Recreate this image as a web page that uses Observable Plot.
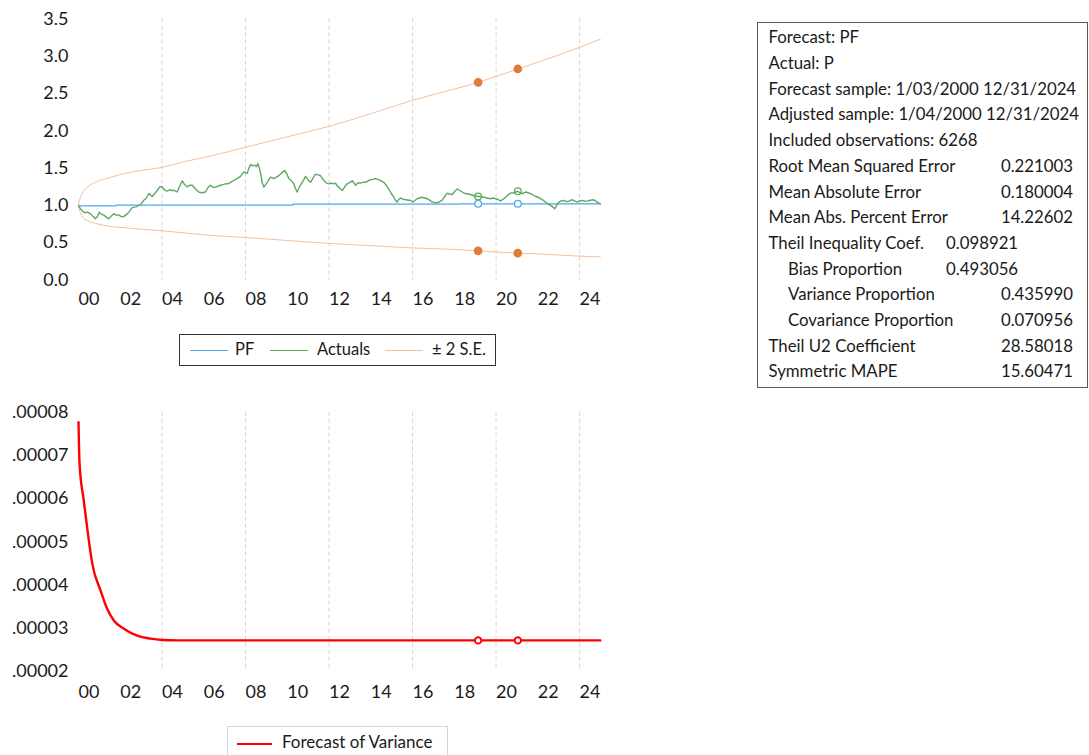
<!DOCTYPE html>
<html>
<head>
<meta charset="utf-8">
<script src="https://cdn.jsdelivr.net/npm/d3@7"></script>
<script src="https://cdn.jsdelivr.net/npm/@observablehq/plot@0.6"></script>
<style>
  html, body { margin: 0; padding: 0; background: #fff; }
  #page { position: relative; width: 1089px; height: 755px; overflow: hidden; font-family: Lato, "Open Sans", sans-serif; color: #1a1a1a; }
  .abs { position: absolute; }
  .legend { position: absolute; box-sizing: border-box; background: #fff; }
  .legend .sw { position: absolute; height: 0; }
  .legend .lb { position: absolute; white-space: nowrap; line-height: 1; }
  #stats { position: absolute; left: 757px; top: 22px; width: 331px; height: 366px; box-sizing: border-box; border: 1px solid #5a5a5a; font-size: 16.8px; }
  #stats div { position: absolute; white-space: nowrap; line-height: 1; }
</style>
</head>
<body>
<div id="page">
  <div id="top" class="abs" style="left:0;top:0"></div>
  <div id="bottom" class="abs" style="left:0;top:390px"></div>
  <div id="legendTop" class="legend" style="left:179px;top:334px;width:317px;height:32px;border:1px solid #333;"></div>
  <div id="legendBottom" class="legend" style="left:227px;top:726px;width:221px;height:40px;border:1px solid #d6d6d6;"></div>
  <div id="stats"></div>
</div>
<script>
// ---- time axis ----
const yearStart = 2000, yearEnd = 2025;
const gridYears = [2004, 2008, 2012, 2016, 2020, 2024];
const labelYears = [2000, 2002, 2004, 2006, 2008, 2010, 2012, 2014, 2016, 2018, 2020, 2022, 2024];
const markerYears = [2019.14, 2021.04];

// ---- forecast PF (step series) ----
const pfYears  = [2000.0, 2001.8, 2010.27, 2018.2, 2024.99];
const pfValues = [0.995, 1.003, 1.018, 1.022, 1.022];

// ---- actual P ----
const actualYears = [
  2000.00, 2000.10, 2000.18, 2000.30, 2000.42, 2000.57, 2000.70, 2000.81, 2000.92, 2001.00,
  2001.10, 2001.21, 2001.35, 2001.45, 2001.58, 2001.69, 2001.80, 2001.93, 2002.05, 2002.17,
  2002.30, 2002.41, 2002.57, 2002.75, 2002.89, 2003.00, 2003.13, 2003.25, 2003.37, 2003.53,
  2003.65, 2003.77, 2003.90, 2004.00, 2004.12, 2004.25, 2004.37, 2004.49, 2004.60, 2004.73,
  2004.85, 2004.97, 2005.08, 2005.20, 2005.32, 2005.45, 2005.60, 2005.76, 2005.90, 2006.08,
  2006.20, 2006.32, 2006.45, 2006.56, 2006.68, 2006.80, 2006.92, 2007.04, 2007.16, 2007.28,
  2007.40, 2007.52, 2007.64, 2007.76, 2007.92, 2008.08, 2008.16, 2008.24, 2008.34, 2008.44,
  2008.52, 2008.59, 2008.66, 2008.72, 2008.80, 2008.88, 2008.96, 2009.04, 2009.12, 2009.20,
  2009.35, 2009.48, 2009.60, 2009.75, 2009.88, 2009.98, 2010.07, 2010.20, 2010.31, 2010.40,
  2010.47, 2010.58, 2010.71, 2010.80, 2010.87, 2011.00, 2011.11, 2011.22, 2011.35, 2011.47,
  2011.59, 2011.75, 2011.88, 2011.99, 2012.10, 2012.23, 2012.31, 2012.40, 2012.47, 2012.55,
  2012.63, 2012.75, 2012.87, 2013.00, 2013.11, 2013.20, 2013.27, 2013.38, 2013.50, 2013.62,
  2013.75, 2013.87, 2013.98, 2014.10, 2014.22, 2014.38, 2014.50, 2014.62, 2014.74, 2014.86,
  2014.98, 2015.10, 2015.18, 2015.26, 2015.34, 2015.42, 2015.54, 2015.66, 2015.78, 2015.90,
  2016.01, 2016.12, 2016.22, 2016.34, 2016.46, 2016.58, 2016.70, 2016.82, 2016.94, 2017.06,
  2017.18, 2017.30, 2017.42, 2017.54, 2017.66, 2017.78, 2017.90, 2018.02, 2018.14, 2018.26,
  2018.38, 2018.50, 2018.62, 2018.77, 2018.95, 2019.14, 2019.28, 2019.41, 2019.57, 2019.73,
  2019.85, 2019.97, 2020.10, 2020.21, 2020.33, 2020.45, 2020.57, 2020.69, 2020.85, 2021.04,
  2021.15, 2021.25, 2021.41, 2021.53, 2021.65, 2021.77, 2021.89, 2022.01, 2022.13, 2022.25,
  2022.37, 2022.49, 2022.61, 2022.71, 2022.81, 2022.90, 2023.00, 2023.12, 2023.24, 2023.36,
  2023.48, 2023.64, 2023.76, 2023.88, 2024.00, 2024.12, 2024.24, 2024.36, 2024.52, 2024.68,
  2024.84, 2024.99
];
const actualValues = [
  1.00, 0.95, 0.93, 0.90, 0.91, 0.89, 0.85, 0.82, 0.86, 0.91,
  0.88, 0.87, 0.84, 0.82, 0.86, 0.89, 0.87, 0.87, 0.85, 0.85,
  0.88, 0.91, 0.97, 0.98, 1.00, 1.02, 1.07, 1.10, 1.16, 1.12,
  1.16, 1.20, 1.25, 1.25, 1.21, 1.19, 1.21, 1.20, 1.20, 1.18,
  1.26, 1.33, 1.28, 1.25, 1.27, 1.27, 1.22, 1.18, 1.17, 1.18,
  1.24, 1.27, 1.24, 1.245, 1.26, 1.27, 1.28, 1.29, 1.29, 1.31,
  1.33, 1.345, 1.37, 1.39, 1.45, 1.43, 1.50, 1.55, 1.53, 1.54,
  1.52, 1.56, 1.50, 1.43, 1.30, 1.245, 1.28, 1.31, 1.35, 1.38,
  1.36, 1.38, 1.40, 1.44, 1.47, 1.42, 1.36, 1.33, 1.29, 1.22,
  1.18, 1.25, 1.31, 1.35, 1.39, 1.34, 1.31, 1.36, 1.42, 1.41,
  1.40, 1.335, 1.30, 1.29, 1.30, 1.29, 1.30, 1.26, 1.245, 1.22,
  1.20, 1.25, 1.29, 1.31, 1.33, 1.30, 1.27, 1.30, 1.30, 1.31,
  1.31, 1.33, 1.345, 1.35, 1.36, 1.345, 1.33, 1.31, 1.27, 1.22,
  1.16, 1.11, 1.07, 1.045, 1.08, 1.10, 1.08, 1.08, 1.07, 1.07,
  1.045, 1.07, 1.09, 1.10, 1.11, 1.10, 1.09, 1.07, 1.045, 1.04,
  1.036, 1.05, 1.07, 1.12, 1.165, 1.15, 1.147, 1.19, 1.22, 1.20,
  1.18, 1.16, 1.157, 1.147, 1.13, 1.12, 1.12, 1.11, 1.10, 1.09,
  1.10, 1.09, 1.08, 1.06, 1.08, 1.11, 1.14, 1.165, 1.17, 1.19,
  1.17, 1.157, 1.18, 1.17, 1.157, 1.14, 1.12, 1.11, 1.09, 1.07,
  1.045, 1.02, 1.00, 0.98, 0.955, 1.00, 1.045, 1.06, 1.067, 1.05,
  1.058, 1.076, 1.06, 1.045, 1.06, 1.067, 1.06, 1.058, 1.07, 1.076,
  1.045, 1.02
];

// ---- ±2 S.E. band ----
const bandYears = [2000.0, 2000.05, 2000.10, 2000.18, 2000.49, 2000.81, 2001.45, 2002.25, 2003.05, 2004.0,
                   2005.12, 2006.29, 2008.0, 2010.0, 2012.0, 2014.0, 2016.0, 2018.0, 2019.14, 2021.04,
                   2022.0, 2024.0, 2024.99];
const upperValues = [1.0, 1.07, 1.11, 1.16, 1.26, 1.31, 1.37, 1.43, 1.47, 1.51,
                     1.59, 1.66, 1.78, 1.92, 2.06, 2.23, 2.41, 2.56, 2.65, 2.83,
                     2.92, 3.12, 3.23];
const lowerValues = [1.0, 0.93, 0.90, 0.85, 0.79, 0.76, 0.72, 0.70, 0.68, 0.66,
                     0.63, 0.60, 0.57, 0.53, 0.49, 0.46, 0.43, 0.41, 0.39, 0.36,
                     0.35, 0.32, 0.31];

// ---- forecast of variance ----
const varYears  = [2000.0, 2000.05, 2000.25, 2000.45, 2000.66, 2001.05, 2001.37, 2001.69, 2002.17, 2002.81,
                   2003.45, 2004.0, 2004.73, 2024.99];
const varValues = [0.0000777, 0.0000681, 0.0000596, 0.0000519, 0.0000449, 0.0000388, 0.0000345, 0.0000318,
                   0.0000299, 0.0000283, 0.0000276, 0.0000273, 0.0000272, 0.0000272];

// ---- evaluation statistics ----
const statLabels = ["Forecast: PF", "Actual: P", "Forecast sample: 1/03/2000 12/31/2024",
  "Adjusted sample: 1/04/2000 12/31/2024", "Included observations: 6268",
  "Root Mean Squared Error", "Mean Absolute Error", "Mean Abs. Percent Error",
  "Theil Inequality Coef.", "Bias Proportion", "Variance Proportion", "Covariance Proportion",
  "Theil U2 Coefficient", "Symmetric MAPE"];
const statValues = ["", "", "", "", "", "0.221003", "0.180004", "14.22602", "0.098921",
  "0.493056", "0.435990", "0.070956", "28.58018", "15.60471"];
const statIndent = [0,0,0,0,0,0,0,0,0,1,1,1,0,0];
const statMidColumn = [0,0,0,0,0,0,0,0,1,1,0,0,0,0];

// ---- helpers ----
const toDate = y => {
  const yr = Math.floor(y);
  const a = Date.UTC(yr, 0, 1), b = Date.UTC(yr + 1, 0, 1);
  return new Date(a + (y - yr) * (b - a));
};
const pairs = (xs, ys) => xs.map((x, i) => ({date: toDate(x), value: ys[i]}));

const actual = pairs(actualYears, actualValues);
const pf = pairs(pfYears, pfValues);
const upper = pairs(bandYears, upperValues);
const lower = pairs(bandYears, lowerValues);
const variance = pairs(varYears, varValues);

const valueAt = (series, y) => {
  // nearest listed observation to the marker date
  const t = toDate(y);
  return d3.least(series, d => Math.abs(d.date - t)).value;
};
const pfStepAt = y => pfValues[d3.bisectRight(pfYears, y) - 1];

const markersBand = markerYears.flatMap(y => [
  {date: toDate(y), value: valueAt(upper, y)},
  {date: toDate(y), value: valueAt(lower, y)}
]);
const markersActual = markerYears.map(y => ({date: toDate(y), value: valueAt(actual, y)}));
const markersPF = markerYears.map(y => ({date: toDate(y), value: pfStepAt(y)}));
const markersVar = markerYears.map(y => ({date: toDate(y), value: valueAt(variance, y)}));

const xDomain = [new Date(Date.UTC(yearStart, 0, 1)), new Date(Date.UTC(yearEnd, 0, 1))];
const gridDates = gridYears.map(y => new Date(Date.UTC(y, 0, 1)));
const labelDates = labelYears.map(y => new Date(Date.UTC(y, 6, 2)));
const fmtYY = d3.utcFormat("%y");

const BLUE = "#4ea6f7", GREEN = "#5fa862", ORANGE_LINE = "#f5bf9c", ORANGE_DOT = "#e07b39", RED = "#ff0000";
const axisStyle = {fontFamily: "Lato, 'Open Sans', sans-serif", fontSize: "18px", color: "#1a1a1a", background: "transparent", overflow: "visible"};

// ---- top panel: PF, actuals and ±2 S.E. ----
const topPlot = Plot.plot({
  width: 620, height: 310,
  marginLeft: 78, marginRight: 20, marginTop: 18.5, marginBottom: 30.5,
  style: axisStyle,
  x: {type: "utc", domain: xDomain},
  y: {domain: [0, 3.5]},
  marks: [
    Plot.ruleX(gridDates, {stroke: "#d4d4d4", strokeDasharray: "4,3", strokeWidth: 1}),
    Plot.line(upper, {x: "date", y: "value", stroke: ORANGE_LINE, strokeWidth: 1, curve: "monotone-x"}),
    Plot.line(lower, {x: "date", y: "value", stroke: ORANGE_LINE, strokeWidth: 1, curve: "monotone-x"}),
    Plot.line(pf, {x: "date", y: "value", stroke: BLUE, strokeWidth: 1.3, curve: "step-after"}),
    Plot.line(actual, {x: "date", y: "value", stroke: GREEN, strokeWidth: 1.4}),
    Plot.dot(markersBand, {x: "date", y: "value", r: 3.6, fill: ORANGE_DOT, stroke: ORANGE_DOT}),
    Plot.dot(markersActual, {x: "date", y: "value", r: 3.4, fill: "none", stroke: GREEN, strokeWidth: 1.3}),
    Plot.dot(markersPF, {x: "date", y: "value", r: 3.4, fill: "white", stroke: BLUE, strokeWidth: 1.3}),
    Plot.axisX(labelDates, {tickSize: 0, tickPadding: 12, tickFormat: fmtYY, label: null}),
    Plot.axisY([0, 0.5, 1, 1.5, 2, 2.5, 3, 3.5], {tickSize: 0, tickPadding: 10, tickFormat: d3.format(".1f"), label: null})
  ]
});
document.getElementById("top").appendChild(topPlot);

// ---- bottom panel: forecast of variance ----
const fmtSmall = d => d3.format(".5f")(d).replace(/^0/, "");
const bottomPlot = Plot.plot({
  width: 620, height: 320,
  marginLeft: 78, marginRight: 20, marginTop: 21.7, marginBottom: 39,
  style: axisStyle,
  x: {type: "utc", domain: xDomain},
  y: {domain: [0.00002, 0.00008]},
  marks: [
    Plot.ruleX(gridDates, {stroke: "#d4d4d4", strokeDasharray: "4,3", strokeWidth: 1}),
    Plot.line(variance, {x: "date", y: "value", stroke: RED, strokeWidth: 2.4, curve: "monotone-x"}),
    Plot.dot(markersVar, {x: "date", y: "value", r: 3.2, fill: "white", stroke: RED, strokeWidth: 2}),
    Plot.axisX(labelDates, {tickSize: 0, tickPadding: 14, tickFormat: fmtYY, label: null}),
    Plot.axisY([0.00002, 0.00003, 0.00004, 0.00005, 0.00006, 0.00007, 0.00008], {tickSize: 0, tickPadding: 10, tickFormat: fmtSmall, label: null})
  ]
});
document.getElementById("bottom").appendChild(bottomPlot);

// ---- legends ----
function legend(el, items, fontSize) {
  for (const it of items) {
    const sw = document.createElement("div");
    sw.className = "sw";
    sw.style.left = it.x0 + "px";
    sw.style.width = (it.x1 - it.x0) + "px";
    sw.style.top = it.y + "px";
    sw.style.borderTop = `${it.w}px solid ${it.color}`;
    el.appendChild(sw);
    const lb = document.createElement("div");
    lb.className = "lb";
    lb.textContent = it.label;
    lb.style.left = it.tx + "px";
    lb.style.top = (it.y - fontSize * 0.55) + "px";
    lb.style.fontSize = fontSize + "px";
    el.appendChild(lb);
  }
}
legend(document.getElementById("legendTop"), [
  {label: "PF", color: BLUE, w: 1, x0: 10, x1: 48, tx: 55, y: 15},
  {label: "Actuals", color: GREEN, w: 1, x0: 90, x1: 128, tx: 137, y: 15},
  {label: "± 2 S.E.", color: ORANGE_LINE, w: 1, x0: 205, x1: 243, tx: 252, y: 15}
], 16.5);
legend(document.getElementById("legendBottom"), [
  {label: "Forecast of Variance", color: RED, w: 2, x0: 9, x1: 44, tx: 54, y: 15.5}
], 17);

// ---- statistics box ----
const stats = document.getElementById("stats");
statLabels.forEach((s, i) => {
  const top = 15.3 + i * 25.7 - 9;
  const lab = document.createElement("div");
  lab.textContent = s;
  lab.style.left = (statIndent[i] ? 30 : 10.5) + "px";
  lab.style.top = top + "px";
  stats.appendChild(lab);
  if (statValues[i]) {
    const v = document.createElement("div");
    v.textContent = statValues[i];
    v.style.top = top + "px";
    if (statMidColumn[i]) v.style.left = "188px";
    else v.style.right = "14px";
    stats.appendChild(v);
  }
});
</script>
</body>
</html>
